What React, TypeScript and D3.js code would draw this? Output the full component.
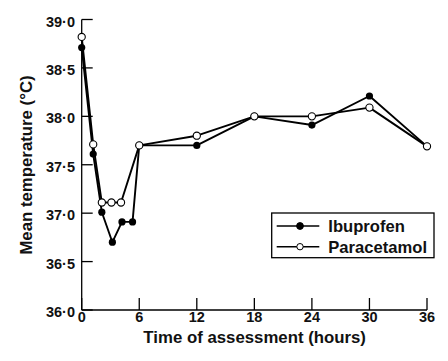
import React from "react";
import * as d3 from "d3";

const ibuTimes = [0, 1.2, 2.1, 3.2, 4.2, 5.3, 6, 12, 18, 24, 30, 36];
const ibuValues = [38.71, 37.61, 37.01, 36.7, 36.91, 36.91, 37.7, 37.7, 38.0, 37.91, 38.21, 37.69];
const paraTimes = [0, 1.2, 2.1, 3.1, 4.1, 6, 12, 18, 24, 30, 36];
const paraValues = [38.82, 37.71, 37.11, 37.11, 37.11, 37.7, 37.8, 38.0, 38.0, 38.09, 37.69];
const xTicks = [0, 6, 12, 18, 24, 30, 36];
const yTicks = [36.0, 36.5, 37.0, 37.5, 38.0, 38.5, 39.0];
const seriesNames = ["Ibuprofen", "Paracetamol"];

const W = 448;
const H = 361;
const FONT = "'Liberation Sans', Arial, Helvetica, sans-serif";

export default function App() {
  const x = d3.scaleLinear().domain([0, 36]).range([81.7, 427]);
  const y = d3.scaleLinear().domain([36, 39]).range([310, 19.5]);
  const line = d3.line<[number, number]>().x((d) => x(d[0])).y((d) => y(d[1]));
  const ibu: [number, number][] = ibuTimes.map((t, i) => [t, ibuValues[i]]);
  const para: [number, number][] = paraTimes.map((t, i) => [t, paraValues[i]]);
  const fmt = (v: number) => v.toFixed(1).replace(".", "\u00B7");
  const x0 = x(0);
  const y0 = y(36);
  const r = 3.6;

  return (
    <svg width={W} height={H} style={{ position: "absolute", left: 0, top: 0, background: "#fff" }}>
      {/* axes */}
      <line x1={x0} x2={x0} y1={y(39)} y2={y0} stroke="#000" strokeWidth={1.3} />
      <line x1={x0} x2={x(36)} y1={y0} y2={y0} stroke="#000" strokeWidth={1.3} />
      {yTicks.map((t) => (
        <g key={"y" + t}>
          <line x1={x0} x2={x0 + 11} y1={y(t)} y2={y(t)} stroke="#000" strokeWidth={1.3} />
          <text x={75} y={y(t) + 7} textAnchor="end" fontFamily={FONT} fontWeight="bold" fontSize={14.5} fill="#111">
            {fmt(t)}
          </text>
        </g>
      ))}
      {xTicks.map((t) => (
        <g key={"x" + t}>
          <line x1={x(t)} x2={x(t)} y1={y0} y2={y0 - 12} stroke="#000" strokeWidth={1.3} />
          <text x={x(t)} y={322} textAnchor="middle" fontFamily={FONT} fontWeight="bold" fontSize={14.5} fill="#111">
            {t}
          </text>
        </g>
      ))}
      <text x={(x0 + x(36)) / 2 + 0.3} y={343.3} textAnchor="middle" fontFamily={FONT} fontWeight="bold" fontSize={16.8} fill="#111">
        Time of assessment (hours)
      </text>
      <text
        transform={`translate(32.3,165) rotate(-90)`}
        textAnchor="middle"
        fontFamily={FONT}
        fontWeight="bold"
        fontSize={16.8}
        fill="#111"
      >
        Mean temperature (°C)
      </text>

      {/* lines */}
      <path d={line(ibu) || ""} fill="none" stroke="#000" strokeWidth={1.9} strokeLinejoin="round" />
      <path d={line(para) || ""} fill="none" stroke="#000" strokeWidth={1.9} strokeLinejoin="round" />
      {ibu.map((d, i) => (
        <circle key={"i" + i} cx={x(d[0])} cy={y(d[1])} r={r} fill="#000" />
      ))}
      {para.map((d, i) => (
        <circle key={"p" + i} cx={x(d[0])} cy={y(d[1])} r={r} fill="#fff" stroke="#000" strokeWidth={1.1} />
      ))}

      {/* legend */}
      <rect x={271.7} y={213} width={162.3} height={44.7} fill="#fff" stroke="#000" strokeWidth={1.3} />
      {seriesNames.map((name, i) => {
        const ly = 226 + i * 20.7;
        return (
          <g key={name}>
            <line x1={276.7} x2={319.3} y1={ly} y2={ly} stroke="#000" strokeWidth={1.6} />
            <circle cx={300} cy={ly} r={i === 0 ? 3.4 : 3.2} fill={i === 0 ? "#000" : "#fff"} stroke="#000" strokeWidth={1} />
            <text x={328.3} y={ly + 6} fontFamily={FONT} fontWeight="bold" fontSize={16.6} fill="#111">
              {name}
            </text>
          </g>
        );
      })}
    </svg>
  );
}
